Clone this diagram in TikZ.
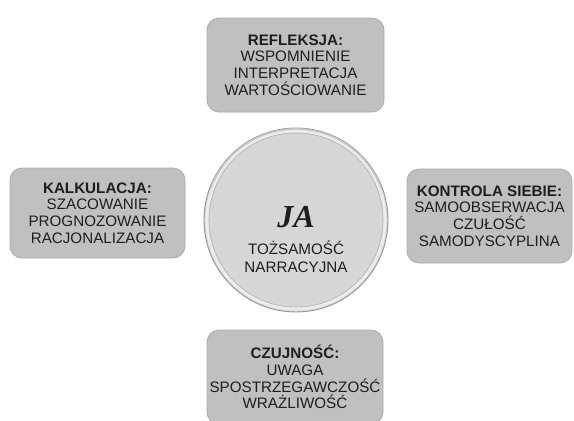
\documentclass[tikz,border=0pt]{standalone}
\usepackage{fontspec}
\setmainfont{Liberation Sans}
\newfontfamily\jafont{Liberation Serif}
\usetikzlibrary{positioning}
\definecolor{boxF}{RGB}{192,192,192}
\definecolor{boxD}{RGB}{170,170,170}
\definecolor{ringF}{RGB}{214,214,214}
\definecolor{ringD}{RGB}{150,150,150}
\definecolor{txt}{RGB}{30,30,30}
\newcommand{\RC}{92}
\newcommand{\BH}{94}

\begin{document}
\begin{tikzpicture}[x=1pt, y=-1pt,
    card/.style={rectangle, rounded corners=12pt, draw=boxD, line width=0.8pt, fill=boxF,
      minimum height=\BH pt, inner sep=0pt, align=center, text=txt,
      font=\fontsize{15.2}{16.8}\selectfont},
    hub/.style={circle, draw=ringD, line width=0.9pt, fill=ringF, minimum size=2*\RC pt, inner sep=0pt},
    rim/.style={draw=white!85!gray, line width=3pt},
    lbl/.style={align=center, text=txt, font=\fontsize{15.2}{18}\selectfont},
  ]
  \useasboundingbox[fill=white] (0,0) rectangle (574,421);

  % central circle
  \node[hub] (ja) at (296,220) {};
  \draw[rim] (ja.center) circle (\RC-3);
  \draw[draw=gray!60, line width=0.6pt] (ja.center) circle (\RC-5);
  \draw[draw=gray!45, line width=1.6pt] ([shift={(200:\RC-1)}]ja.center) arc (200:340:\RC-1);
  \node[font=\jafont\bfseries\itshape\fontsize{32}{32}\selectfont, text=txt] (jatxt) at (296,217) {JA};
  \node[lbl, below=6pt of jatxt] (narr) {TOŻSAMOŚĆ\\NARRACYJNA};

  % four cards
  \node[card, minimum width=177pt] (refl) at (295.5,65)
    {\textbf{REFLEKSJA:}\\WSPOMNIENIE\\INTERPRETACJA\\WARTOŚCIOWANIE};
  \node[card, minimum width=175pt, minimum height=90pt] (kalk) at (97.5,213)
    {\textbf{KALKULACJA:}\\SZACOWANIE\\PROGNOZOWANIE\\RACJONALIZACJA};
  \node[card, minimum width=165pt] (kontr) at (489.5,216)
    {\textbf{KONTROLA SIEBIE:}\\SAMOOBSERWACJA\\CZUŁOŚĆ\\SAMODYSCYPLINA};
  \node[card, minimum width=176pt] (czuj) at (295,377)
    {\textbf{CZUJNOŚĆ:}\\UWAGA\\SPOSTRZEGAWCZOŚĆ\\WRAŻLIWOŚĆ};

\end{tikzpicture}
\end{document}
